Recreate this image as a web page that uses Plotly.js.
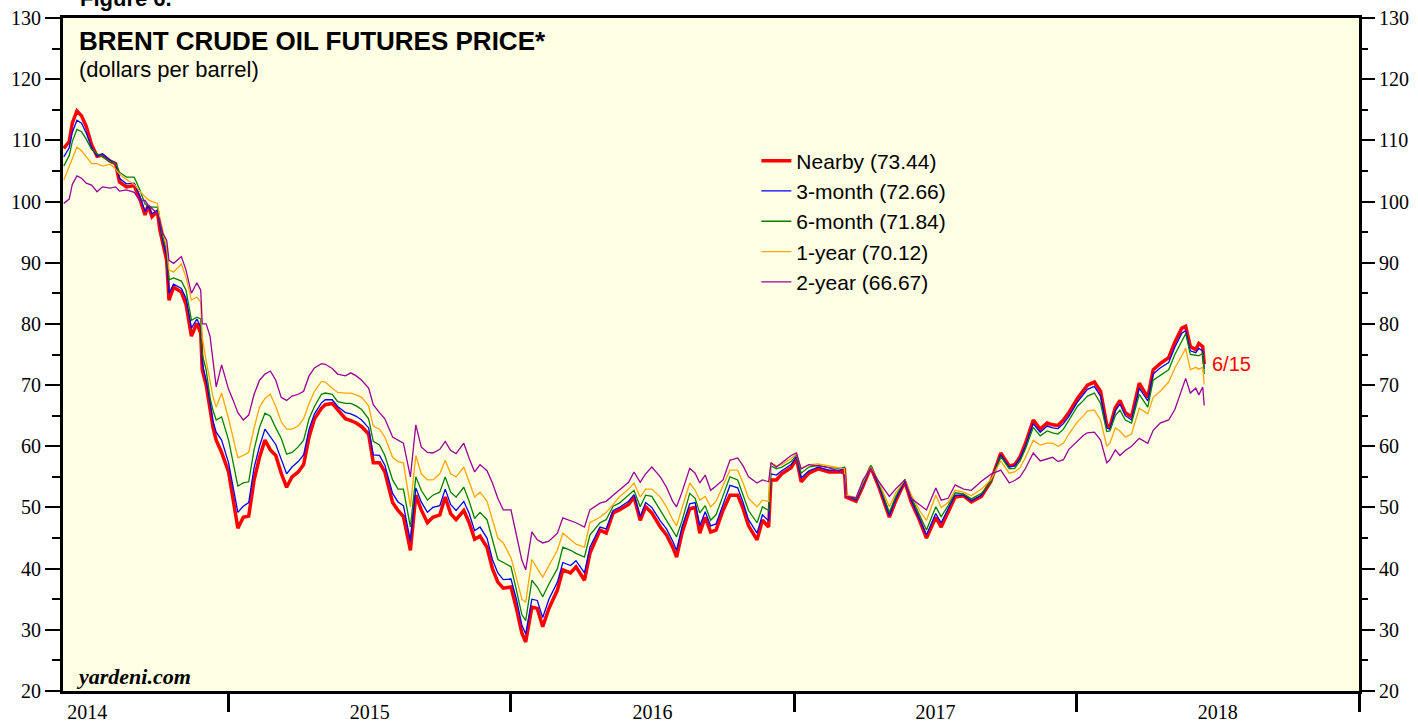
<!DOCTYPE html>
<html>
<head>
<meta charset="utf-8">
<script src="https://cdn.plot.ly/plotly-3.0.1.min.js"></script>
<style>html,body{margin:0;padding:0;background:#fff}#chart{width:1418px;height:723px}</style>
</head>
<body>
<div id="chart"></div>
<script>
const dates = [
'2014-06-02','2014-06-09','2014-06-13','2014-06-19','2014-06-25','2014-07-01','2014-07-08','2014-07-15','2014-07-22','2014-08-01',
'2014-08-08','2014-08-13','2014-08-22','2014-09-01','2014-09-08','2014-09-15','2014-09-19','2014-09-24','2014-10-01','2014-10-04',
'2014-10-08','2014-10-13','2014-10-16','2014-10-22','2014-11-01','2014-11-07','2014-11-14','2014-11-21','2014-11-26','2014-11-28',
'2014-12-03','2014-12-08','2014-12-12','2014-12-16','2014-12-23','2015-01-01','2015-01-07','2015-01-13','2015-01-20','2015-01-27',
'2015-02-03','2015-02-10','2015-02-17','2015-02-24','2015-03-03','2015-03-10','2015-03-17','2015-03-24','2015-04-01','2015-04-08',
'2015-04-15','2015-04-22','2015-05-01','2015-05-06','2015-05-15','2015-05-22','2015-06-01','2015-06-08','2015-06-15','2015-06-22',
'2015-07-01','2015-07-07','2015-07-15','2015-07-22','2015-08-01','2015-08-08','2015-08-15','2015-08-24','2015-08-31','2015-09-07',
'2015-09-15','2015-09-22','2015-10-01','2015-10-08','2015-10-15','2015-10-22','2015-11-01','2015-11-08','2015-11-15','2015-11-22',
'2015-12-01','2015-12-08','2015-12-15','2015-12-22','2016-01-01','2016-01-08','2016-01-15','2016-01-20','2016-01-28','2016-02-04',
'2016-02-11','2016-02-19','2016-03-01','2016-03-08','2016-03-18','2016-03-25','2016-04-05','2016-04-12','2016-04-25','2016-05-03',
'2016-05-12','2016-05-20','2016-06-01','2016-06-08','2016-06-16','2016-06-23','2016-07-01','2016-07-12','2016-07-20','2016-07-28',
'2016-08-02','2016-08-09','2016-08-19','2016-08-26','2016-09-01','2016-09-08','2016-09-15','2016-09-22','2016-10-01','2016-10-10',
'2016-10-20','2016-10-27','2016-11-03','2016-11-14','2016-11-21','2016-11-29','2016-11-30','2016-12-02','2016-12-09','2016-12-16',
'2016-12-28','2017-01-04','2017-01-10','2017-01-20','2017-02-01','2017-02-15','2017-03-01','2017-03-07','2017-03-09','2017-03-22',
'2017-03-31','2017-04-10','2017-04-20','2017-05-04','2017-05-12','2017-05-24','2017-06-01','2017-06-12','2017-06-21','2017-07-03',
'2017-07-10','2017-07-19','2017-07-28','2017-08-08','2017-08-18','2017-08-31','2017-09-12','2017-09-25','2017-10-06','2017-10-13',
'2017-10-20','2017-10-27','2017-11-06','2017-11-15','2017-11-24','2017-12-01','2017-12-08','2017-12-15','2017-12-22','2018-01-02',
'2018-01-10','2018-01-15','2018-01-24','2018-02-01','2018-02-09','2018-02-13','2018-02-20','2018-02-26','2018-03-05','2018-03-13',
'2018-03-23','2018-04-03','2018-04-10','2018-04-19','2018-04-30','2018-05-08','2018-05-17','2018-05-22','2018-05-28','2018-06-04',
'2018-06-08','2018-06-13','2018-06-15'];

const nearby = [
108.7,109.8,112.8,114.8,114.0,112.3,109.3,107.4,107.6,106.6,
106.2,103.2,102.4,102.6,100.5,97.8,99.4,97.5,98.4,95.5,
93.2,90.4,83.9,86.0,85.2,83.2,78.0,80.1,78.5,72.5,
70.0,66.4,63.0,61.0,59.0,55.8,51.2,46.6,48.4,48.6,
54.5,58.2,61.0,59.4,58.5,55.6,53.3,55.0,55.8,57.0,
61.5,64.5,66.2,66.8,67.0,66.0,64.5,64.2,63.8,63.2,
62.0,57.3,57.3,55.8,50.8,49.5,48.5,43.0,52.0,49.6,
47.5,48.4,48.8,51.7,49.0,48.0,49.5,47.5,44.8,45.3,
43.5,40.0,37.8,36.8,37.0,33.5,29.5,28.0,33.7,33.5,
30.5,33.5,36.5,39.8,39.3,40.3,38.1,42.5,46.3,45.8,
49.1,49.6,50.5,51.7,47.9,50.1,49.1,46.8,45.5,43.5,
41.9,45.8,49.8,50.0,45.8,48.4,46.0,46.3,49.5,52.0,
52.0,49.8,47.0,44.7,47.9,46.8,50.5,54.5,54.5,55.5,
56.5,58.0,54.2,55.6,56.3,55.8,55.8,56.1,51.7,51.0,
53.5,56.6,53.5,48.4,51.0,54.2,51.0,47.9,45.0,48.4,
46.8,49.3,51.7,51.9,50.9,51.8,54.2,58.9,56.8,57.0,
58.3,60.5,64.3,62.8,63.8,63.5,63.4,64.3,65.5,67.8,
69.3,70.0,70.5,69.0,63.5,63.1,66.3,67.5,65.5,64.8,
70.3,68.0,72.5,73.5,74.5,77.0,79.3,79.6,76.3,75.8,
76.8,76.3,73.44];

const month3 = [
107.3,108.8,111.3,113.3,112.8,111.2,108.8,107.4,107.8,106.7,
106.3,103.8,102.9,103.0,101.0,98.4,99.3,98.0,98.6,96.3,
93.6,91.0,85.0,86.5,85.8,84.2,79.3,80.8,79.5,73.5,
70.8,67.2,64.0,62.3,61.0,57.3,53.0,49.2,50.2,50.8,
56.5,60.0,62.8,61.6,60.3,57.9,55.5,56.6,57.5,58.6,
62.8,65.3,67.1,67.6,67.6,66.5,65.5,65.3,64.9,64.3,
63.0,58.6,58.5,56.9,52.3,50.9,50.3,44.5,53.2,50.9,
49.2,50.0,50.3,53.0,50.5,49.5,51.0,49.0,46.2,46.8,
45.0,41.5,39.3,38.2,38.3,35.0,30.8,29.3,35.0,34.8,
32.0,35.0,37.8,41.0,40.5,41.3,39.3,43.5,46.8,46.5,
49.5,50.0,51.0,52.1,48.5,50.8,50.0,47.8,46.5,44.5,
43.0,46.8,50.6,50.8,47.0,49.3,47.0,47.3,50.5,53.6,
53.2,50.8,48.0,45.8,48.8,47.8,51.5,55.5,55.3,56.0,
57.0,58.3,54.8,56.0,56.6,56.1,56.1,56.3,52.0,51.2,
53.7,56.7,53.7,48.7,51.3,54.3,51.3,48.2,45.5,49.0,
47.5,49.8,52.0,52.0,51.1,52.0,54.2,58.6,56.6,56.8,
58.0,60.1,63.7,62.3,63.3,63.0,62.9,63.7,64.9,67.2,
68.6,69.3,69.8,68.2,63.0,62.8,65.8,66.9,65.0,64.3,
69.5,67.4,71.8,72.8,73.7,76.2,78.5,78.9,75.6,75.3,
76.0,75.6,72.66];

const month6 = [
105.8,107.5,109.8,111.8,111.4,110.2,108.5,107.8,107.3,106.5,
106.3,104.8,104.0,104.0,102.0,99.6,99.3,99.1,99.1,97.0,
94.2,92.0,87.2,87.5,87.0,85.5,80.6,81.1,80.8,75.0,
72.5,68.0,65.8,64.3,64.8,61.0,57.5,53.5,54.0,54.2,
59.5,63.1,65.4,64.9,63.0,61.3,58.7,59.0,59.9,61.0,
64.5,66.5,68.5,68.7,68.5,67.3,67.0,67.0,66.6,66.0,
64.5,60.8,60.2,58.5,54.5,53.0,53.0,46.8,55.0,52.8,
51.2,52.0,52.5,55.0,52.5,51.7,53.3,51.0,48.2,49.2,
48.0,44.5,41.5,41.0,40.3,36.5,32.5,31.5,38.1,37.0,
35.4,37.5,40.0,43.5,43.0,42.5,41.9,45.5,47.5,48.0,
50.2,50.7,52.0,52.8,50.1,52.0,51.8,49.6,48.0,46.3,
45.2,47.8,52.3,51.5,49.1,50.3,47.9,48.8,52.0,55.0,
54.5,52.0,49.5,47.5,50.1,49.5,52.8,56.8,56.3,56.6,
57.5,58.6,55.6,56.6,56.9,56.5,56.4,56.6,52.0,51.4,
54.0,56.9,54.1,49.2,51.7,54.6,51.8,48.7,46.3,50.1,
48.5,50.3,52.4,52.2,51.4,52.3,54.1,58.3,56.3,56.4,
57.6,59.6,63.1,61.7,62.5,62.2,62.0,62.8,64.2,66.5,
67.5,68.2,68.7,67.0,62.4,62.5,65.0,65.9,64.3,63.8,
68.5,66.4,70.8,71.5,72.5,75.0,77.3,78.4,75.0,74.8,
74.8,75.2,71.84];

const year1 = [
103.5,105.6,107.0,108.9,108.3,107.3,106.2,106.2,105.8,106.1,
105.3,104.5,103.6,102.8,101.7,100.8,100.3,100.0,99.7,97.5,
95.3,92.5,88.8,88.5,89.8,87.6,83.9,84.4,83.5,77.8,
74.0,70.3,68.0,66.4,68.7,64.5,61.5,58.1,58.5,59.0,
63.0,66.4,67.8,68.5,66.5,64.0,62.8,62.8,63.3,64.5,
67.0,69.0,70.6,70.5,69.5,68.8,68.7,68.7,68.4,68.0,
66.6,63.3,62.8,61.5,58.2,57.5,57.3,50.1,58.5,55.5,
54.5,54.5,55.5,57.7,55.5,55.0,56.6,54.0,51.7,52.5,
51.0,48.0,45.0,44.2,41.8,38.5,35.0,34.5,41.5,40.0,
38.6,40.5,43.0,45.8,44.7,44.0,43.5,47.5,48.4,49.2,
50.5,51.7,53.0,54.0,51.7,53.0,53.0,51.7,50.1,48.0,
47.0,49.8,54.0,52.8,51.2,51.8,50.1,51.0,53.5,56.1,
56.1,54.0,51.5,50.1,51.2,51.0,54.0,57.3,56.8,57.0,
58.0,58.8,56.3,57.0,57.1,56.8,56.4,56.3,52.0,51.6,
54.2,56.6,54.3,50.1,52.3,54.5,52.2,49.5,47.9,52.0,
50.0,50.8,52.8,52.5,51.9,53.0,54.5,57.6,55.6,55.8,
56.5,58.2,61.0,60.2,60.5,60.5,60.0,60.5,62.0,64.0,
65.0,65.8,65.9,64.3,60.0,60.5,63.0,62.5,61.5,62.0,
66.2,65.3,68.0,69.0,70.5,72.8,74.8,76.0,72.5,72.9,
72.6,72.9,70.12];

const year2 = [
99.7,100.4,102.8,104.2,103.8,103.0,102.7,101.6,102.4,102.2,
102.4,101.7,101.9,101.5,100.2,100.2,99.4,98.8,98.1,97.0,
94.8,93.7,90.4,89.9,91.0,88.8,85.0,86.7,85.5,80.0,
80.0,78.0,73.5,69.7,73.3,69.3,67.5,65.5,64.3,65.1,
68.5,70.8,71.8,72.3,70.8,68.0,67.5,68.2,68.5,69.0,
71.5,72.8,73.5,73.4,72.7,71.8,71.5,72.0,71.5,70.8,
69.5,66.8,65.5,64.5,61.5,61.0,60.5,55.0,63.5,59.9,
59.0,58.9,59.5,60.8,59.3,58.8,60.5,58.0,55.8,57.0,
56.0,54.0,51.5,49.6,49.6,45.5,41.4,39.8,46.0,44.7,
44.2,44.5,45.8,48.3,47.9,47.5,46.8,49.6,50.7,51.0,
52.0,52.8,54.1,55.8,54.1,55.5,56.6,55.0,53.3,51.0,
50.1,52.5,56.4,55.6,54.0,55.3,52.8,53.5,54.5,57.7,
58.1,56.8,55.0,54.0,54.5,54.2,55.5,57.3,56.6,57.3,
58.5,58.9,56.3,57.0,56.8,56.5,55.8,55.3,51.8,51.6,
54.5,56.4,54.3,51.8,53.0,54.5,51.5,50.5,49.6,53.2,
51.2,51.5,53.7,53.0,52.8,54.3,55.4,56.1,54.0,54.4,
55.0,56.4,58.9,57.6,58.0,58.2,57.5,57.8,59.5,60.8,
61.8,62.2,62.3,61.0,57.3,57.8,59.4,58.5,59.3,60.0,
61.3,60.5,62.6,63.8,64.3,66.0,69.5,71.1,68.7,69.5,
68.4,69.7,66.67];

const seriesNames = ['Nearby','3-month','6-month','1-year','2-year'];
const seriesData = [nearby, month3, month6, year1, year2];
const seriesColors = ['#ff0000','#0000ff','#008000','#ffa500','#990099'];
const seriesWidths = [3.5,1.3,1.3,1.3,1.3];
const lastLabel = '6/15';

const traces = seriesData.map((vals, i) => ({
  x: dates, y: vals, type: 'scatter', mode: 'lines',
  name: seriesNames[i] + ' (' + vals[vals.length-1].toFixed(2) + ')',
  line: {color: seriesColors[i], width: seriesWidths[i]},
  hoverinfo: 'skip'
}));
// transparent companion trace so the right-hand value axis is drawn
traces.push({x: dates, y: nearby, yaxis: 'y2', type: 'scatter', mode: 'lines',
  line: {color: 'rgba(0,0,0,0)', width: 0}, showlegend: false, hoverinfo: 'skip'});

const serif = 'Liberation Serif, Times New Roman, serif';
const sans = 'Liberation Sans, Arial, Helvetica, sans-serif';

const yTick = {
  range: [20,130], dtick: 10, tick0: 20, ticks: 'outside', ticklen: 15, tickwidth: 2, tickcolor: '#000',
  minor: {dtick: 5, ticks: 'outside', ticklen: 8, tickwidth: 2, tickcolor: '#000'},
  showgrid: false, zeroline: false, tickfont: {family: serif, size: 20, color: '#000'}, fixedrange: true
};

const layout = {
  width: 1418, height: 723,
  margin: {l: 63, r: 59, t: 18, b: 32},
  paper_bgcolor: '#ffffff', plot_bgcolor: '#ffffe4',
  showlegend: true,
  legend: {x: 0.535, y: 0.818, xanchor: 'left', yanchor: 'top', bgcolor: 'rgba(0,0,0,0)',
           font: {family: sans, size: 21, color: '#000'}, tracegroupgap: 0},
  xaxis: {
    type: 'date', range: ['2014-06-01','2019-01-01'],
    tickmode: 'linear', tick0: '2014-01-01', dtick: 'M12', ticklabelmode: 'period', tickformat: '%Y',
    ticks: 'outside', ticklen: 18, tickwidth: 3, tickcolor: '#000', ticklabelstandoff: -17,
    showline: true, linewidth: 3, linecolor: '#000', mirror: true,
    showgrid: false, zeroline: false, tickfont: {family: serif, size: 20, color: '#000'}, fixedrange: true
  },
  yaxis: Object.assign({}, yTick, {showline: true, linewidth: 3, linecolor: '#000', mirror: true}),
  yaxis2: Object.assign({}, yTick, {overlaying: 'y', side: 'right', anchor: 'x', showline: false}),
  annotations: [
    {text: '<b>Figure 6.</b>', xref: 'paper', yref: 'paper', x: 0.0116, y: 1.0297, xanchor: 'left', yanchor: 'middle',
     showarrow: false, font: {family: sans, size: 22, color: '#000'}},
    {text: '<b>BRENT CRUDE OIL FUTURES PRICE*</b>', xref: 'paper', yref: 'paper', x: 0.0105, y: 0.9655,
     xanchor: 'left', yanchor: 'middle', showarrow: false, font: {family: sans, size: 26, color: '#000'}},
    {text: '(dollars per barrel)', xref: 'paper', yref: 'paper', x: 0.0105, y: 0.9242,
     xanchor: 'left', yanchor: 'middle', showarrow: false, font: {family: sans, size: 22, color: '#000'}},
    {text: '<b><i>yardeni.com</i></b>', xref: 'paper', yref: 'paper', x: 0.0085, y: 0.0215,
     xanchor: 'left', yanchor: 'middle', showarrow: false, font: {family: serif, size: 22, color: '#000'}},
    {text: lastLabel, xref: 'x', yref: 'y', x: dates[dates.length-1], y: nearby[nearby.length-1],
     xanchor: 'left', yanchor: 'middle', xshift: 6, showarrow: false, font: {family: sans, size: 20, color: '#ff0000'}}
  ]
};

Plotly.newPlot('chart', traces, layout, {displayModeBar: false, staticPlot: true});
</script>
</body>
</html>
